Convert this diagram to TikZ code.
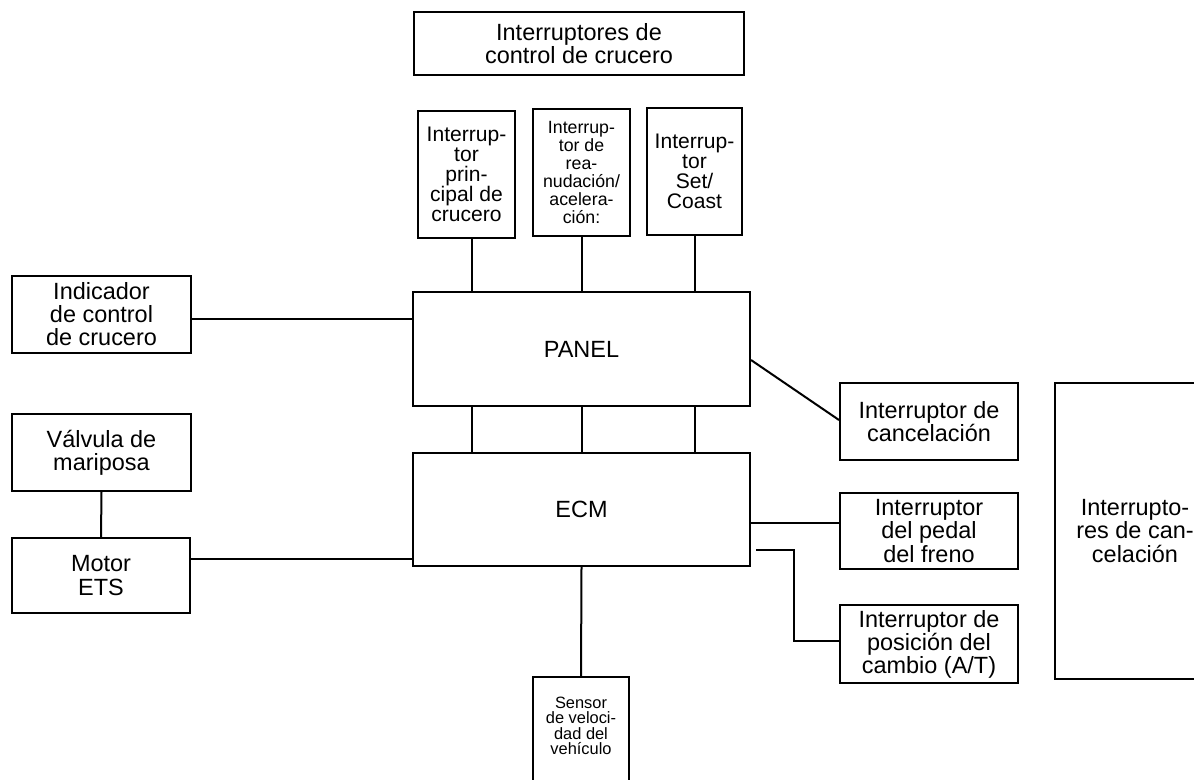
\documentclass[tikz,border=0pt]{standalone}
\usepackage{fontspec}
\setmainfont{Liberation Sans}
\usetikzlibrary{calc}
\newdimen\pxu
\pxu=0.75pt
\begin{document}
\begin{tikzpicture}[x=0.75pt,y=-0.75pt,
  line width=1.5pt,
  box/.style={draw,line width=1.5pt,inner sep=0pt,align=center,
    font=\fontsize{17.6}{17.3}\selectfont},
  smallbox/.style={box,font=\fontsize{15.8}{15}\selectfont},
  tinybox/.style={box,font=\fontsize{13.3}{13.5}\selectfont},
  sensortext/.style={inner sep=0pt,align=center,font=\fontsize{12.3}{11.5}\selectfont}]
\useasboundingbox (0,0) rectangle (1194,779);
\fill[white] (0,0) rectangle (1194,779);
\clip (0,0) rectangle (1194,779);

% switch group heading
\node[box,minimum width=330\pxu,minimum height=63\pxu] (top) at (579,43.5)
  {Interruptores de\\control de crucero};

% individual cruise switches
\node[smallbox,minimum width=97\pxu,minimum height=127\pxu] (b1) at (466.5,174.5)
  {Interrup-\\tor\\prin-\\cipal de\\crucero};
\node[tinybox,minimum width=97\pxu,minimum height=127\pxu] (b2) at (581.5,172.5)
  {Interrup-\\tor de\\rea-\\nudación/\\acelera-\\ción:};
\node[smallbox,minimum width=95\pxu,minimum height=127\pxu] (b3) at (694.5,171.5)
  {Interrup-\\tor\\Set/\\Coast};

% control units
\node[box,minimum width=337\pxu,minimum height=114\pxu] (panel) at (581.5,349) {PANEL};
\node[box,minimum width=337\pxu,minimum height=113\pxu] (ecm) at (581.5,509.5) {ECM};

% left side
\node[box,minimum width=179\pxu,minimum height=77\pxu] (ind) at (101.5,314.5)
  {Indicador\\de control\\de crucero};
\node[box,minimum width=179\pxu,minimum height=77\pxu] (valv) at (101.5,452.5)
  {Válvula de\\mariposa};
\node[box,minimum width=178\pxu,minimum height=75\pxu] (motor) at (101,575.5)
  {Motor\\ETS};

% right side
\node[box,minimum width=178\pxu,minimum height=77\pxu] (cancel) at (929,421.5)
  {Interruptor de\\cancelación};
\node[box,minimum width=178\pxu,minimum height=76\pxu] (brake) at (929,531)
  {Interruptor\\del pedal\\del freno};
\node[box,minimum width=178\pxu,minimum height=78\pxu] (shift) at (929,644)
  {Interruptor de\\posición del\\cambio (A/T)};
\node[box,minimum width=160\pxu,minimum height=296\pxu] (cancels) at (1135,531)
  {Interrupto-\\res de can-\\celación};

% vehicle speed sensor (runs off the lower edge)
\node[draw,line width=1.5pt,inner sep=0pt,minimum width=96\pxu,minimum height=130\pxu,anchor=north]
  (sensor) at (581,676) {};
\node[sensortext] (sensortxt) at (581,726)
  {Sensor\\de veloci-\\dad del\\vehículo};

% connectors
\coordinate (p1) at ($(b1.south)+(5.5,0)$);
\coordinate (p2) at ($(b2.south)+(0.5,0)$);
\coordinate (p3) at ($(b3.south)+(0,0)$);
\draw (p1) -- (p1 |- panel.north);
\draw (p2) -- (p2 |- panel.north);
\draw (p3) -- (p3 |- panel.north);
\draw (p1 |- panel.south) -- (p1 |- ecm.north);
\draw (p2 |- panel.south) -- (p2 |- ecm.north);
\draw (p3 |- panel.south) -- (p3 |- ecm.north);

\coordinate (i1) at ($(ind.east)+(0,4.5)$);
\draw (i1) -- (i1 -| panel.west);
\draw (valv.south) -- (motor.north);
\coordinate (m1) at ($(motor.east)+(0,-16.5)$);
\draw (m1) -- (m1 -| ecm.west);

\draw ($(panel.east)+(0,11)$) -- ($(cancel.west)+(0,-1.5)$);
\coordinate (e1) at ($(ecm.east)+(0,13.5)$);
\draw (e1) -- (e1 -| brake.west);
\draw ($(ecm.east)+(5,40.5)$) -- ++(38,0) |- ($(shift.west)+(0,-3)$);
\draw (ecm.south) -- (sensor.north);
\end{tikzpicture}
\end{document}
